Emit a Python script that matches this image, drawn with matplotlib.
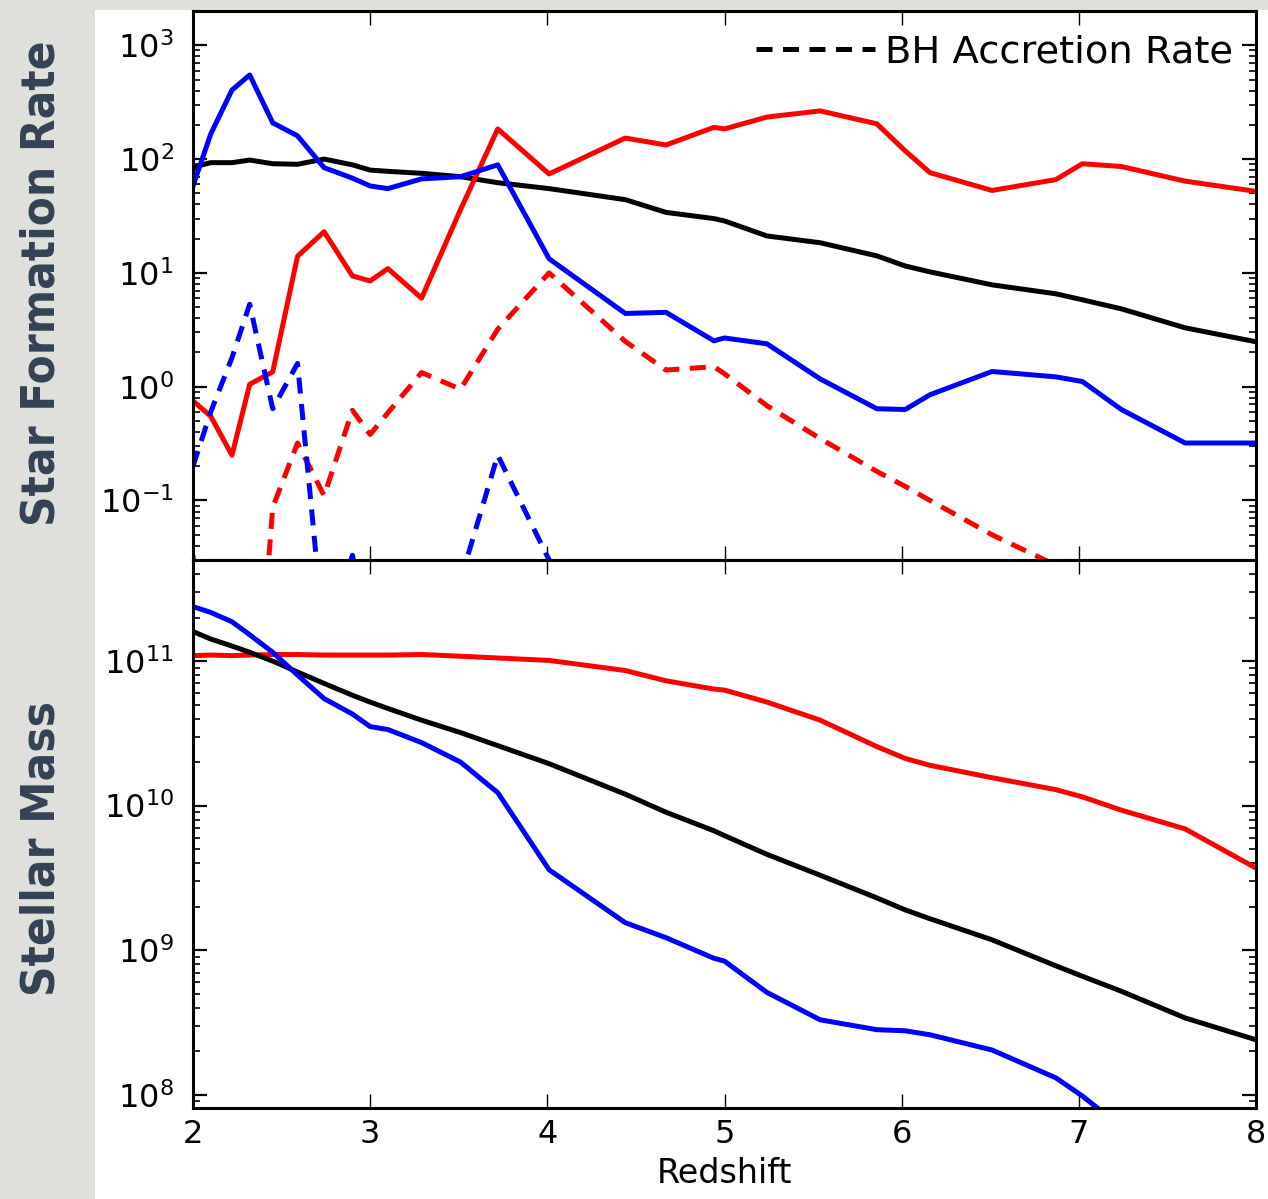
"""
Star formation rate / BH accretion rate and stellar mass vs redshift
"""

import numpy as np
import matplotlib
matplotlib.use('Agg')  # no GUI
import matplotlib.pyplot as plt
from matplotlib import font_manager as fm
from matplotlib.patches import Rectangle
from matplotlib.lines import Line2D
from matplotlib.ticker import LogLocator, FixedLocator, NullLocator, NullFormatter

# snapshot redshifts shared by all curves
redshift = [2.0, 2.1, 2.22, 2.32, 2.45, 2.59, 2.74, 2.9, 3.0, 3.1, 3.29, 3.51, 3.72,
            4.01, 4.44, 4.67, 4.94, 5.0, 5.24, 5.54, 5.86, 6.02, 6.16, 6.51, 6.87,
            7.02, 7.24, 7.6, 8.0]

# star formation rate (solid)
sfr_red = [0.75, 0.55, 0.25, 1.05, 1.35, 14, 23, 9.4, 8.5, 10.9, 6.0, 36, 184,
           74, 153, 133, 190, 184, 234, 265, 204, 118, 76, 53, 66,
           91, 86, 64, 52]
sfr_blue = [58, 166, 404, 548, 208, 160, 84, 68, 58, 55, 67, 70, 89,
            13.3, 4.4, 4.5, 2.53, 2.68, 2.38, 1.17, 0.64, 0.63, 0.85, 1.36, 1.22,
            1.11, 0.63, 0.32, 0.32]
sfr_black = [85, 93, 93, 98, 91, 90, 100, 89, 80, 78, 75, 70, 62,
             55, 44, 34, 30, 28.6, 21.1, 18.4, 14.1, 11.5, 10.2, 7.85, 6.55,
             5.8, 4.83, 3.29, 2.48]

# BH accretion rate (dashed)
bhar_red = [0.033, 3e-4, 1e-4, 2e-4, 0.087, 0.32, 0.11, 0.62, 0.38, 0.59, 1.33, 0.95, 3.2,
            10, 2.5, 1.4, 1.5, 1.3, 0.68, 0.35, 0.18, 0.133, 0.10, 0.05, 0.027,
            0.021, 0.016, 0.01, 0.007]
bhar_blue = [0.2, 0.6, 1.8, 5.3, 0.64, 1.6, 0.006, 0.033, 0.005, 0.001, 0.001, 0.02, 0.25,
             0.03, 0.001, 1e-4, 1e-4, 1e-4, 1e-4, 1e-4, 1e-4, 1e-4, 1e-4, 1e-4, 1e-4,
             1e-4, 1e-4, 1e-4, 1e-4]

# stellar mass
mstar_red = [1.09e11, 1.1e11, 1.09e11, 1.1e11, 1.11e11, 1.11e11, 1.1e11, 1.1e11, 1.1e11, 1.1e11, 1.11e11, 1.08e11, 1.05e11,
             1.01e11, 8.6e10, 7.3e10, 6.4e10, 6.3e10, 5.2e10, 3.9e10, 2.56e10, 2.12e10, 1.9e10, 1.56e10, 1.29e10,
             1.15e10, 9.3e9, 6.9e9, 3.7e9]
mstar_blue = [2.38e11, 2.17e11, 1.87e11, 1.52e11, 1.15e11, 8.0e10, 5.5e10, 4.3e10, 3.52e10, 3.36e10, 2.73e10, 2.0e10, 1.23e10,
              3.6e9, 1.55e9, 1.22e9, 8.8e8, 8.4e8, 5.1e8, 3.3e8, 2.82e8, 2.77e8, 2.6e8, 2.04e8, 1.31e8,
              9.8e7, 6.0e7, 3.5e7, 2.0e7]
mstar_black = [1.6e11, 1.42e11, 1.27e11, 1.15e11, 1.0e11, 8.4e10, 7.0e10, 5.8e10, 5.2e10, 4.7e10, 3.9e10, 3.2e10, 2.6e10,
               1.95e10, 1.2e10, 9.0e9, 6.7e9, 6.2e9, 4.6e9, 3.3e9, 2.3e9, 1.9e9, 1.65e9, 1.18e9, 7.8e8,
               6.6e8, 5.2e8, 3.4e8, 2.4e8]


def pick_condensed_bold():
    """Ищем узкий жирный шрифт, если такой установлен"""
    best = None
    for f in fm.fontManager.ttflist:
        name = f.name.lower()
        narrow = ('condensed' in name or 'narrow' in name or
                  f.stretch in ('condensed', 'semi-condensed', 'extra-condensed'))
        bold = f.weight in ('bold', 'heavy', 'black', 700, 800, 900) or 'bold' in str(f.weight)
        if narrow and bold:
            best = f.fname
            break
        if narrow and best is None:
            best = f.fname
    return best


W, H = 1268, 1199
fig = plt.figure(figsize=(W / 100, H / 100), dpi=100)
fig.patch.set_facecolor('#dfdfdb')
fig.add_artist(Rectangle((95 / W, 0), 1 - 95 / W, 1 - 10 / H, transform=fig.transFigure,
                         facecolor='white', edgecolor='none', zorder=-10))

left = 193 / W
width = (1256 - 193) / W
ax1 = fig.add_axes([left, 1 - 560 / H, width, (560 - 11) / H])
ax2 = fig.add_axes([left, 1 - 1108 / H, width, (1108 - 560) / H])

lw = 3.6
dash = (3.2, 2.1)

ax1.plot(redshift, sfr_black, color='k', lw=lw)
ax1.plot(redshift, sfr_red, color='r', lw=lw)
ax1.plot(redshift, sfr_blue, color='b', lw=lw)
ax1.plot(redshift, bhar_red, color='r', lw=lw, ls='--', dashes=dash)
ax1.plot(redshift, bhar_blue, color='b', lw=lw, ls='--', dashes=dash)

ax2.plot(redshift, mstar_red, color='r', lw=lw)
ax2.plot(redshift, mstar_black, color='k', lw=lw)
ax2.plot(redshift, mstar_blue, color='b', lw=lw)

ax1.set_ylim(0.03, 2000)
ax2.set_ylim(8.1e7, 5e11)

for ax in (ax1, ax2):
    ax.set_yscale('log')
    ax.set_xlim(2, 8)
    ax.xaxis.set_major_locator(FixedLocator([2, 3, 4, 5, 6, 7, 8]))
    ax.xaxis.set_minor_locator(NullLocator())
    ax.yaxis.set_major_locator(LogLocator(base=10, numticks=20))
    ax.yaxis.set_minor_locator(LogLocator(base=10, subs=np.arange(2, 10), numticks=20))
    ax.yaxis.set_minor_formatter(NullFormatter())
    ax.tick_params(which='both', direction='in', top=True, right=True)
    ax.tick_params(axis='y', which='major', length=10, width=1.6, labelsize=23, pad=14)
    ax.tick_params(axis='y', which='minor', length=5, width=1.2)
    ax.tick_params(axis='x', which='major', length=10, width=1.0, labelsize=23, pad=8)
    for s in ax.spines.values():
        s.set_linewidth(2.2)

ax1.tick_params(labelbottom=False)
ax2.set_xlabel('Redshift', fontsize=24, labelpad=5)

handle = Line2D([], [], color='k', lw=lw, ls='--', dashes=dash)
ax1.legend([handle], ['BH Accretion Rate'], loc='upper right', frameon=False,
           fontsize=27.7, handlelength=3.1, handletextpad=0.25, borderaxespad=0.2)

# подписи осей слева, на сером поле
cond_path = pick_condensed_bold()
if cond_path:
    fp = fm.FontProperties(fname=cond_path, weight='bold')
else:
    fp = fm.FontProperties(family='DejaVu Sans', weight='bold', stretch='condensed')

label_kw = dict(rotation=90, ha='center', va='center', color='#344256', fontproperties=fp)
t1 = fig.text(42 / W, 1 - 283 / H, 'Star Formation Rate', **label_kw)
t2 = fig.text(42 / W, 1 - 848 / H, 'Stellar Mass', **label_kw)

# подгоняем размер так, чтобы длина подписи была ~485 px
size = 40
t1.set_fontsize(size)
t2.set_fontsize(size)
renderer = fig.canvas.get_renderer()
h = t1.get_window_extent(renderer).height
size = min(size * 485 / h, 46)
t1.set_fontsize(size)
t2.set_fontsize(size)

fig.savefig('out.png', dpi=100, facecolor=fig.get_facecolor())
